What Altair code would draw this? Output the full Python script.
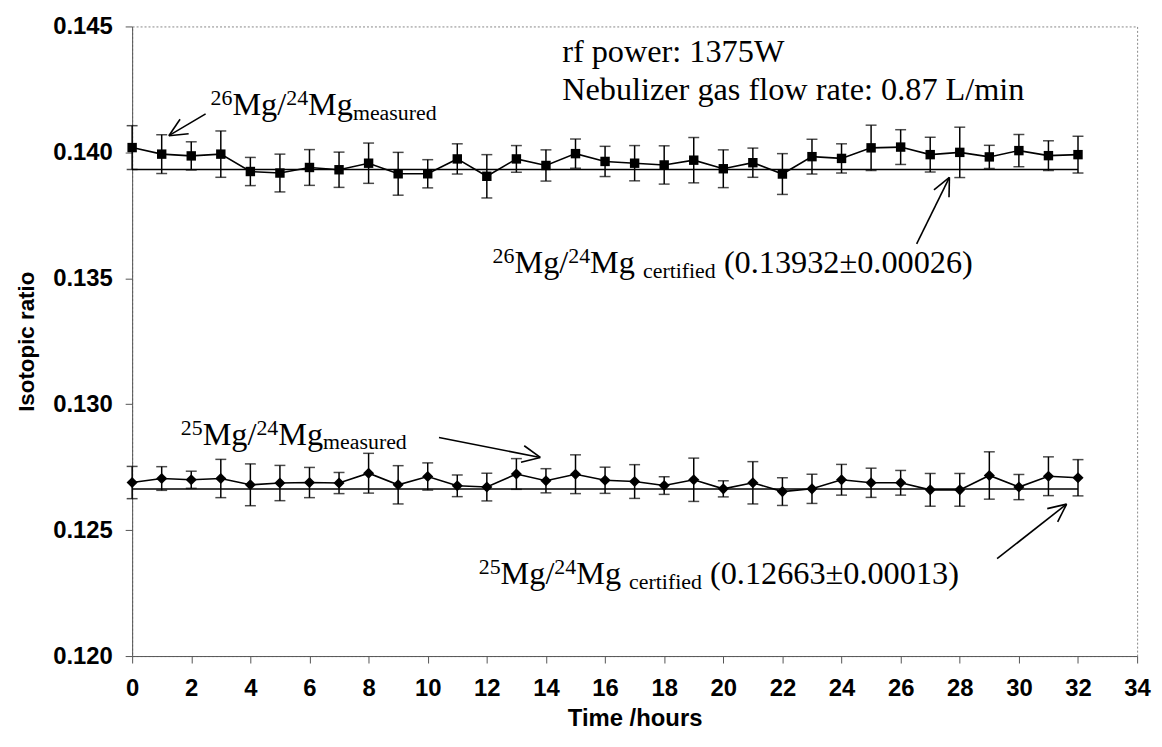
import math
import altair as alt
import pandas as pd

# ---------------- data ----------------
hours = list(range(33))

mg26_measured = [0.14019, 0.13993, 0.13986, 0.13993, 0.13924, 0.13918, 0.13940, 0.13931,
                 0.13957, 0.13915, 0.13915, 0.13974, 0.13905, 0.13974, 0.13948, 0.13995,
                 0.13964, 0.13957, 0.13950, 0.13969, 0.13935, 0.13959, 0.13914, 0.13983,
                 0.13976, 0.14018, 0.14021, 0.13991, 0.14000, 0.13982, 0.14007, 0.13987,
                 0.13991]
mg26_err = [0.00087, 0.00077, 0.00056, 0.00092, 0.00056, 0.00075, 0.00071, 0.00070,
            0.00080, 0.00085, 0.00056, 0.00060, 0.00086, 0.00053, 0.00062, 0.00058,
            0.00060, 0.00070, 0.00076, 0.00090, 0.00075, 0.00058, 0.00081, 0.00069,
            0.00058, 0.00090, 0.00069, 0.00069, 0.00100, 0.00046, 0.00064, 0.00059,
            0.00073]

mg25_measured = [0.12689, 0.12705, 0.12700, 0.12705, 0.12680, 0.12687, 0.12689, 0.12687,
                 0.12726, 0.12680, 0.12713, 0.12676, 0.12671, 0.12723, 0.12696, 0.12722,
                 0.12698, 0.12693, 0.12677, 0.12700, 0.12664, 0.12688, 0.12653, 0.12664,
                 0.12700, 0.12688, 0.12688, 0.12660, 0.12660, 0.12717, 0.12671, 0.12714,
                 0.12708]
mg25_err = [0.00064, 0.00047, 0.00034, 0.00076, 0.00083, 0.00070, 0.00060, 0.00042,
            0.00079, 0.00076, 0.00054, 0.00043, 0.00055, 0.00061, 0.00048, 0.00077,
            0.00052, 0.00067, 0.00035, 0.00086, 0.00032, 0.00084, 0.00055, 0.00058,
            0.00061, 0.00058, 0.00049, 0.00065, 0.00065, 0.00094, 0.00050, 0.00077,
            0.00072]

certified_values = [0.13932, 0.12663]
x_ticks = list(range(0, 35, 2))
y_ticks = [0.120, 0.125, 0.130, 0.135, 0.140, 0.145]

# ---------------- layout ----------------
W, H = 1012, 634
X0, Y0 = 133, 24          # page position of plot origin
XMIN, XMAX = 0, 34
YMIN, YMAX = 0.120, 0.145
kx = W / (XMAX - XMIN)
ky = H / (YMAX - YMIN)


def to_data(px, py):
    return (px - X0) / kx + XMIN, YMAX - (py - Y0) / ky


TIMES = {' ': 250, '(': 333, ')': 333, '.': 250, '/': 278, ':': 278, '±': 564,
         'L': 611, 'M': 889, 'N': 722, 'W': 944, 'a': 444, 'b': 500, 'c': 444,
         'd': 500, 'e': 444, 'f': 333, 'g': 500, 'i': 278, 'l': 278, 'm': 778,
         'n': 500, 'o': 500, 'p': 500, 'r': 333, 's': 389, 't': 278, 'u': 500,
         'w': 722, 'z': 444}


def tw(s, size):
    return sum(TIMES.get(c, 500) for c in s) / 1000 * size


BIG, SMALL = 32.5, 22
SHIFT = {'n': 0, 'sup': -10, 'sub': 5}


def build(left, base, parts):
    rows = []
    for text, kind in parts:
        size = BIG if kind == 'n' else SMALL
        lead = len(text) - len(text.lstrip(' '))
        px = left + tw(' ' * lead, size)
        x, y = to_data(px, base + SHIFT[kind])
        rows.append(dict(x=x, y=y, text=text.strip(), size=size))
        left += tw(text, size)
    return rows


text_rows = []
text_rows += build(212, 113, [('26', 'sup'), ('Mg/', 'n'), ('24', 'sup'), ('Mg', 'n'), ('measured', 'sub')])
text_rows += build(566, 60, [('rf power: 1375W', 'n')])
text_rows += build(566, 98, [('Nebulizer gas flow rate: 0.87 L/min', 'n')])
text_rows += build(496, 272, [('26', 'sup'), ('Mg/', 'n'), ('24', 'sup'), ('Mg ', 'n'),
                              ('certified', 'sub'), (' (0.13932±0.00026)', 'n')])
text_rows += build(182, 445, [('25', 'sup'), ('Mg/', 'n'), ('24', 'sup'), ('Mg', 'n'), ('measured', 'sub')])
text_rows += build(482, 585, [('25', 'sup'), ('Mg/', 'n'), ('24', 'sup'), ('Mg ', 'n'),
                              ('certified', 'sub'), (' (0.12663±0.00013)', 'n')])
text_df = pd.DataFrame(text_rows)

arrows_px = [((207, 112), (170, 134)),
             ((923, 243), (956, 176)),
             ((442, 438), (544, 458)),
             ((1004, 560), (1074, 505))]
arrow_rows = []
for (tx, ty), (hx, hy) in arrows_px:
    segs = [((tx, ty), (hx, hy))]
    ang = math.atan2(ty - hy, tx - hx)
    for d in (math.radians(25), -math.radians(25)):
        wx = hx + 20 * math.cos(ang + d)
        wy = hy + 20 * math.sin(ang + d)
        segs.append(((hx, hy), (wx, wy)))
    for (ax, ay), (bx, by) in segs:
        x1, y1 = to_data(ax, ay)
        x2, y2 = to_data(bx, by)
        arrow_rows.append(dict(x=x1, y=y1, x2=x2, y2=y2))
arrow_df = pd.DataFrame(arrow_rows)

# ---------------- tables ----------------
rows = []
for name, vals, errs in (('26', mg26_measured, mg26_err), ('25', mg25_measured, mg25_err)):
    for t, v, e in zip(hours, vals, errs):
        rows.append(dict(series=name, x=t, y=v, lo=v - e, hi=v + e))
df = pd.DataFrame(rows)
cert_df = pd.DataFrame(dict(x=[0, 0], x2=[32, 32], y=certified_values))

yscale = alt.Scale(domain=[YMIN, YMAX], nice=False, zero=False)
X = alt.X('x:Q', scale=alt.Scale(domain=[XMIN, XMAX], nice=False, zero=False),
          axis=alt.Axis(values=x_ticks, title='Time /hours', format='d',
                        labelPadding=14, titlePadding=6, titleFontSize=24, labelFlush=False))
Y = alt.Y('y:Q', scale=yscale,
          axis=alt.Axis(values=y_ticks, title='Isotopic ratio', format='.3f',
                        labelPadding=13, titlePadding=14, titleFontSize=22.5))

base = alt.Chart(df)
errbars = base.mark_rule(color='black', strokeWidth=1.5).encode(
    x=X, y=alt.Y('lo:Q', scale=yscale), y2='hi:Q')
cap_lo = base.mark_tick(color='black', thickness=1.5, size=11, orient='horizontal').encode(
    x=X, y=alt.Y('lo:Q', scale=yscale))
cap_hi = base.mark_tick(color='black', thickness=1.5, size=11, orient='horizontal').encode(
    x=X, y=alt.Y('hi:Q', scale=yscale))
lines = base.mark_line(color='black', strokeWidth=1.6).encode(x=X, y=Y, detail='series:N')
squares = base.transform_filter(alt.datum.series == '26').mark_point(
    shape='square', filled=True, size=90, color='black', opacity=1).encode(x=X, y=Y)
diamonds = base.transform_filter(alt.datum.series == '25').mark_point(
    shape='diamond', filled=True, size=125, color='black', opacity=1).encode(x=X, y=Y)
cert = alt.Chart(cert_df).mark_rule(color='black', strokeWidth=1.5).encode(x=X, x2='x2:Q', y=Y)
arrows = alt.Chart(arrow_df).mark_rule(color='black', strokeWidth=1.6).encode(
    x=X, x2='x2:Q', y=Y, y2='y2:Q')
texts = alt.Chart(text_df).mark_text(align='left', baseline='alphabetic',
                                     font='Liberation Serif', color='black').encode(
    x=X, y=Y, text='text:N', size=alt.Size('size:Q', scale=None))

chart = alt.layer(cert, errbars, cap_lo, cap_hi, lines, squares, diamonds, arrows, texts).properties(
    width=W, height=H,
    autosize=alt.AutoSizeParams(type='none'),
    padding={'left': 125, 'top': 16, 'right': 17, 'bottom': 89},
).configure_axis(
    labelFont='Liberation Sans', labelFontWeight='bold', labelFontSize=24, labelColor='black',
    titleFont='Liberation Sans', titleFontWeight='bold', titleColor='black',
    domainColor='#555', domainWidth=1, tickColor='#555', tickSize=7, grid=False,
).configure_view(stroke='#888', strokeDash=[2, 2], strokeWidth=1)

chart.save("out.html", embed_options={"renderer": "svg", "actions": False})
